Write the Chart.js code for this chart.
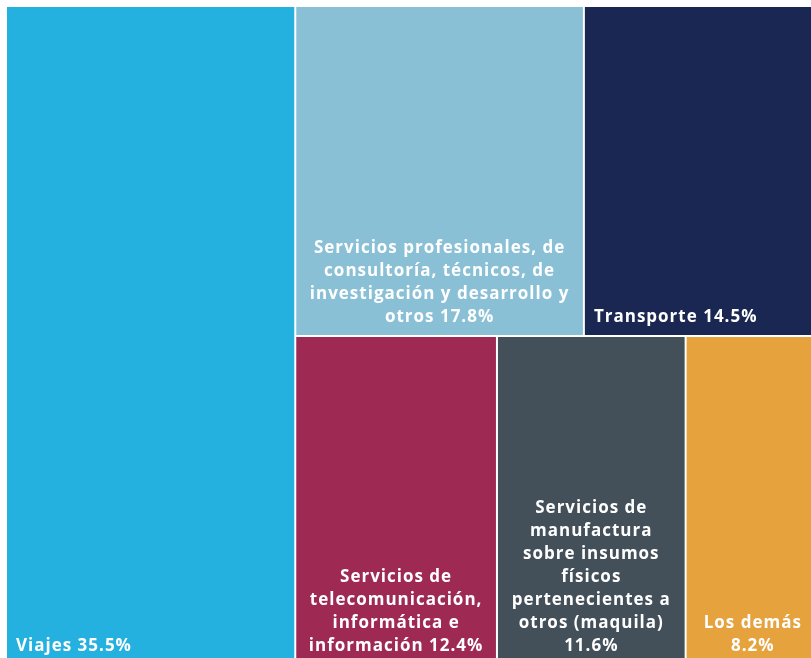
<!DOCTYPE html>
<html>
<head>
<meta charset="utf-8">
<script src="https://cdn.jsdelivr.net/npm/chart.js@4.4.0/dist/chart.umd.min.js"></script>
<style>
    html, body { margin: 0; padding: 0; background: #ffffff; overflow: hidden; }
    #wrap { position: relative; width: 819px; height: 664px; }
</style>
</head>
<body>
<div id="wrap"><canvas id="treemap"></canvas></div>
<script>
// Treemap data
const categories = [
    'Viajes',
    'Servicios profesionales, de consultoría, técnicos, de investigación y desarrollo y otros',
    'Transporte',
    'Servicios de telecomunicación, informática e información',
    'Servicios de manufactura sobre insumos físicos pertenecientes a otros (maquila)',
    'Los demás'
];
const shares = [35.5, 17.8, 14.5, 12.4, 11.6, 8.2];
const cellColors = ['#24b1e0', '#89c0d5', '#1b2753', '#9e2a53', '#434f59', '#e5a23d'];

// first group is a full-height column, the rest are stacked rows
const groups = [[0], [1, 2], [3, 4, 5]];

const FONT = "bold 17px 'Open Sans', sans-serif";
const LETTER_SP = '1px';
const LINE_H = 23;
const PAD = 8;

/**
 * Compute cell rectangles in data units (0..100 on both axes)
 */
function layoutCells() {
    const total = shares.reduce((a, b) => a + b, 0);
    const cells = [];
    const first = groups[0];
    const colW = first.reduce((s, i) => s + shares[i], 0) / total * 100;
    let y = 0;
    first.forEach(i => {
        const h = shares[i] / colW * 100 / total * 100;
        cells[i] = { x0: 0, x1: colW, y0: y, y1: y + h };
        y += h;
    });
    const rest = groups.slice(1);
    const restSum = rest.reduce((s, g) => s + g.reduce((a, i) => a + shares[i], 0), 0);
    let ry = 0;
    rest.forEach(g => {
        const gSum = g.reduce((a, i) => a + shares[i], 0);
        const rh = gSum / restSum * 100;
        let rx = colW;
        g.forEach(i => {
            const w = shares[i] / gSum * (100 - colW);
            cells[i] = { x0: rx, x1: rx + w, y0: ry, y1: ry + rh };
            rx += w;
        });
        ry += rh;
    });
    return cells;
}

function wrapText(ctx, text, maxW) {
    const words = text.split(' ');
    const lines = [];
    let cur = '';
    words.forEach(w => {
        const test = cur ? cur + ' ' + w : w;
        if (cur && ctx.measureText(test).width > maxW) {
            lines.push(cur);
            cur = w;
        } else {
            cur = test;
        }
    });
    if (cur) lines.push(cur);
    return lines;
}

const treemapPlugin = {
    id: 'treemapCells',
    afterDatasetsDraw(chart) {
        const ctx = chart.ctx;
        const xs = chart.scales.x;
        const ys = chart.scales.y;
        const cells = layoutCells();

        cells.forEach((c, i) => {
            const left = xs.getPixelForValue(c.x0) + (c.x0 > 0 ? 1 : 0);
            const right = xs.getPixelForValue(c.x1) - (c.x1 < 99.99 ? 1 : 0);
            const top = ys.getPixelForValue(c.y0) + (c.y0 > 0 ? 1 : 0);
            const bottom = ys.getPixelForValue(c.y1) - (c.y1 < 99.99 ? 1 : 0);

            ctx.save();
            ctx.fillStyle = cellColors[i];
            ctx.fillRect(left, top, right - left, bottom - top);

            // label
            ctx.font = FONT;
            ctx.letterSpacing = LETTER_SP;
            ctx.fillStyle = '#ffffff';
            ctx.textBaseline = 'alphabetic';
            const label = categories[i] + ' ' + shares[i].toFixed(1) + '%';
            const lines = wrapText(ctx, label, right - left - 2 * PAD);
            const baseY = bottom - 13;
            if (lines.length === 1) {
                ctx.textAlign = 'left';
                ctx.fillText(lines[0], left + PAD + 1, baseY);
            } else {
                ctx.textAlign = 'center';
                const cx = (left + right) / 2;
                lines.forEach((ln, k) => {
                    ctx.fillText(ln, cx, baseY - (lines.length - 1 - k) * LINE_H);
                });
            }
            ctx.restore();
        });
    }
};

new Chart(document.getElementById('treemap'), {
    type: 'scatter',
    data: {
        labels: categories,
        datasets: [{
            data: shares.map(() => ({ x: 0, y: 0 })),
            pointRadius: 0,
            pointHoverRadius: 0
        }]
    },
    options: {
        responsive: true,
        maintainAspectRatio: false,
        animation: false,
        layout: { padding: { left: 7, top: 7, right: 0, bottom: 0 } },
        plugins: {
            legend: { display: false },
            tooltip: { enabled: false }
        },
        scales: {
            x: { type: 'linear', min: 0, max: 100, display: false },
            y: { type: 'linear', min: 0, max: 100, reverse: true, display: false }
        }
    },
    plugins: [treemapPlugin]
});
</script>
</body>
</html>
